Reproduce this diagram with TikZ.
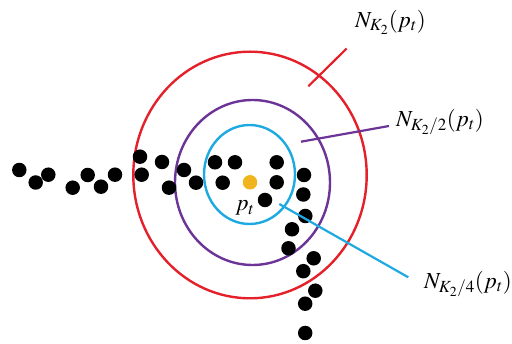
\documentclass[tikz,border=0pt]{standalone}
\usepackage{mathptmx}
\definecolor{cred}{RGB}{228,32,42}
\definecolor{cpurple}{RGB}{108,52,150}
\definecolor{cblue}{RGB}{30,170,225}
\definecolor{corange}{RGB}{240,180,30}
\tikzset{
  ring/.style={line width=2.4pt},
  leader/.style={line width=2.2pt},
  pt/.style={circle, fill=black, inner sep=0pt, minimum size=14.5pt},
  lbl/.style={inner sep=0pt, font=\fontsize{23}{27}\selectfont},
}
\begin{document}
\begin{tikzpicture}[x=1pt,y=-1pt]
\useasboundingbox (0,0) rectangle (512,344);
% rings
\draw[ring,cred] (250,175) ellipse [x radius=116.7pt, y radius=123.3pt];
\draw[ring,cpurple] (252.5,182.5) ellipse [x radius=77.5pt, y radius=82.5pt];
\draw[ring,cblue] (249.5,174.5) ellipse [x radius=45.5pt, y radius=49.5pt];
% centre point
\node[pt, fill=corange] (c) at (250,182.3) {};
% dots
\foreach \i/\x/\y in {1/19.3/170,2/35.7/182.5,3/48.3/174.7,4/72.7/187.7,5/87.7/175,6/101/186.7,7/115/174.7,
  8/140/156.7,9/141.7/174.7,10/162/162,11/169/187.7,12/184/170,13/196/182.7,14/215/162.3,15/235/162.3,
  16/222.7/182.7,17/276.7/162.3,18/276.7/182.3,19/265/200,20/304/175,21/303.3/194.5,22/305.3/216,
  23/292/229.3,24/288.5/248.3,25/313.7/258.3,26/303.3/271.2,27/315.3/290.7,28/305.2/303.7,29/305.2/333}
  \node[pt] (d\i) at (\x,\y) {};
% labels
\node[lbl] (lpt) at (245,208) {$p_t$};
\node[lbl, anchor=west] (l1) at (355,22) {$N_{K_2}(p_t)$};
\node[lbl, anchor=west] (l2) at (396,122) {$N_{K_2/2}(p_t)$};
\node[lbl, anchor=west] (l3) at (424,284) {$N_{K_2/4}(p_t)$};
% leaders
\coordinate (a1) at (308.3,86.3);
\coordinate (b1) at (346.7,48.5);
\coordinate (a2) at (301,141.7);
\coordinate (b2) at (389,126);
\coordinate (a3) at (279.3,204);
\coordinate (b3) at (408.3,277.3);
\draw[leader,cred] (a1) -- (b1);
\draw[leader,cpurple] (a2) -- (b2);
\draw[leader,cblue] (a3) -- (b3);
\end{tikzpicture}
\end{document}
